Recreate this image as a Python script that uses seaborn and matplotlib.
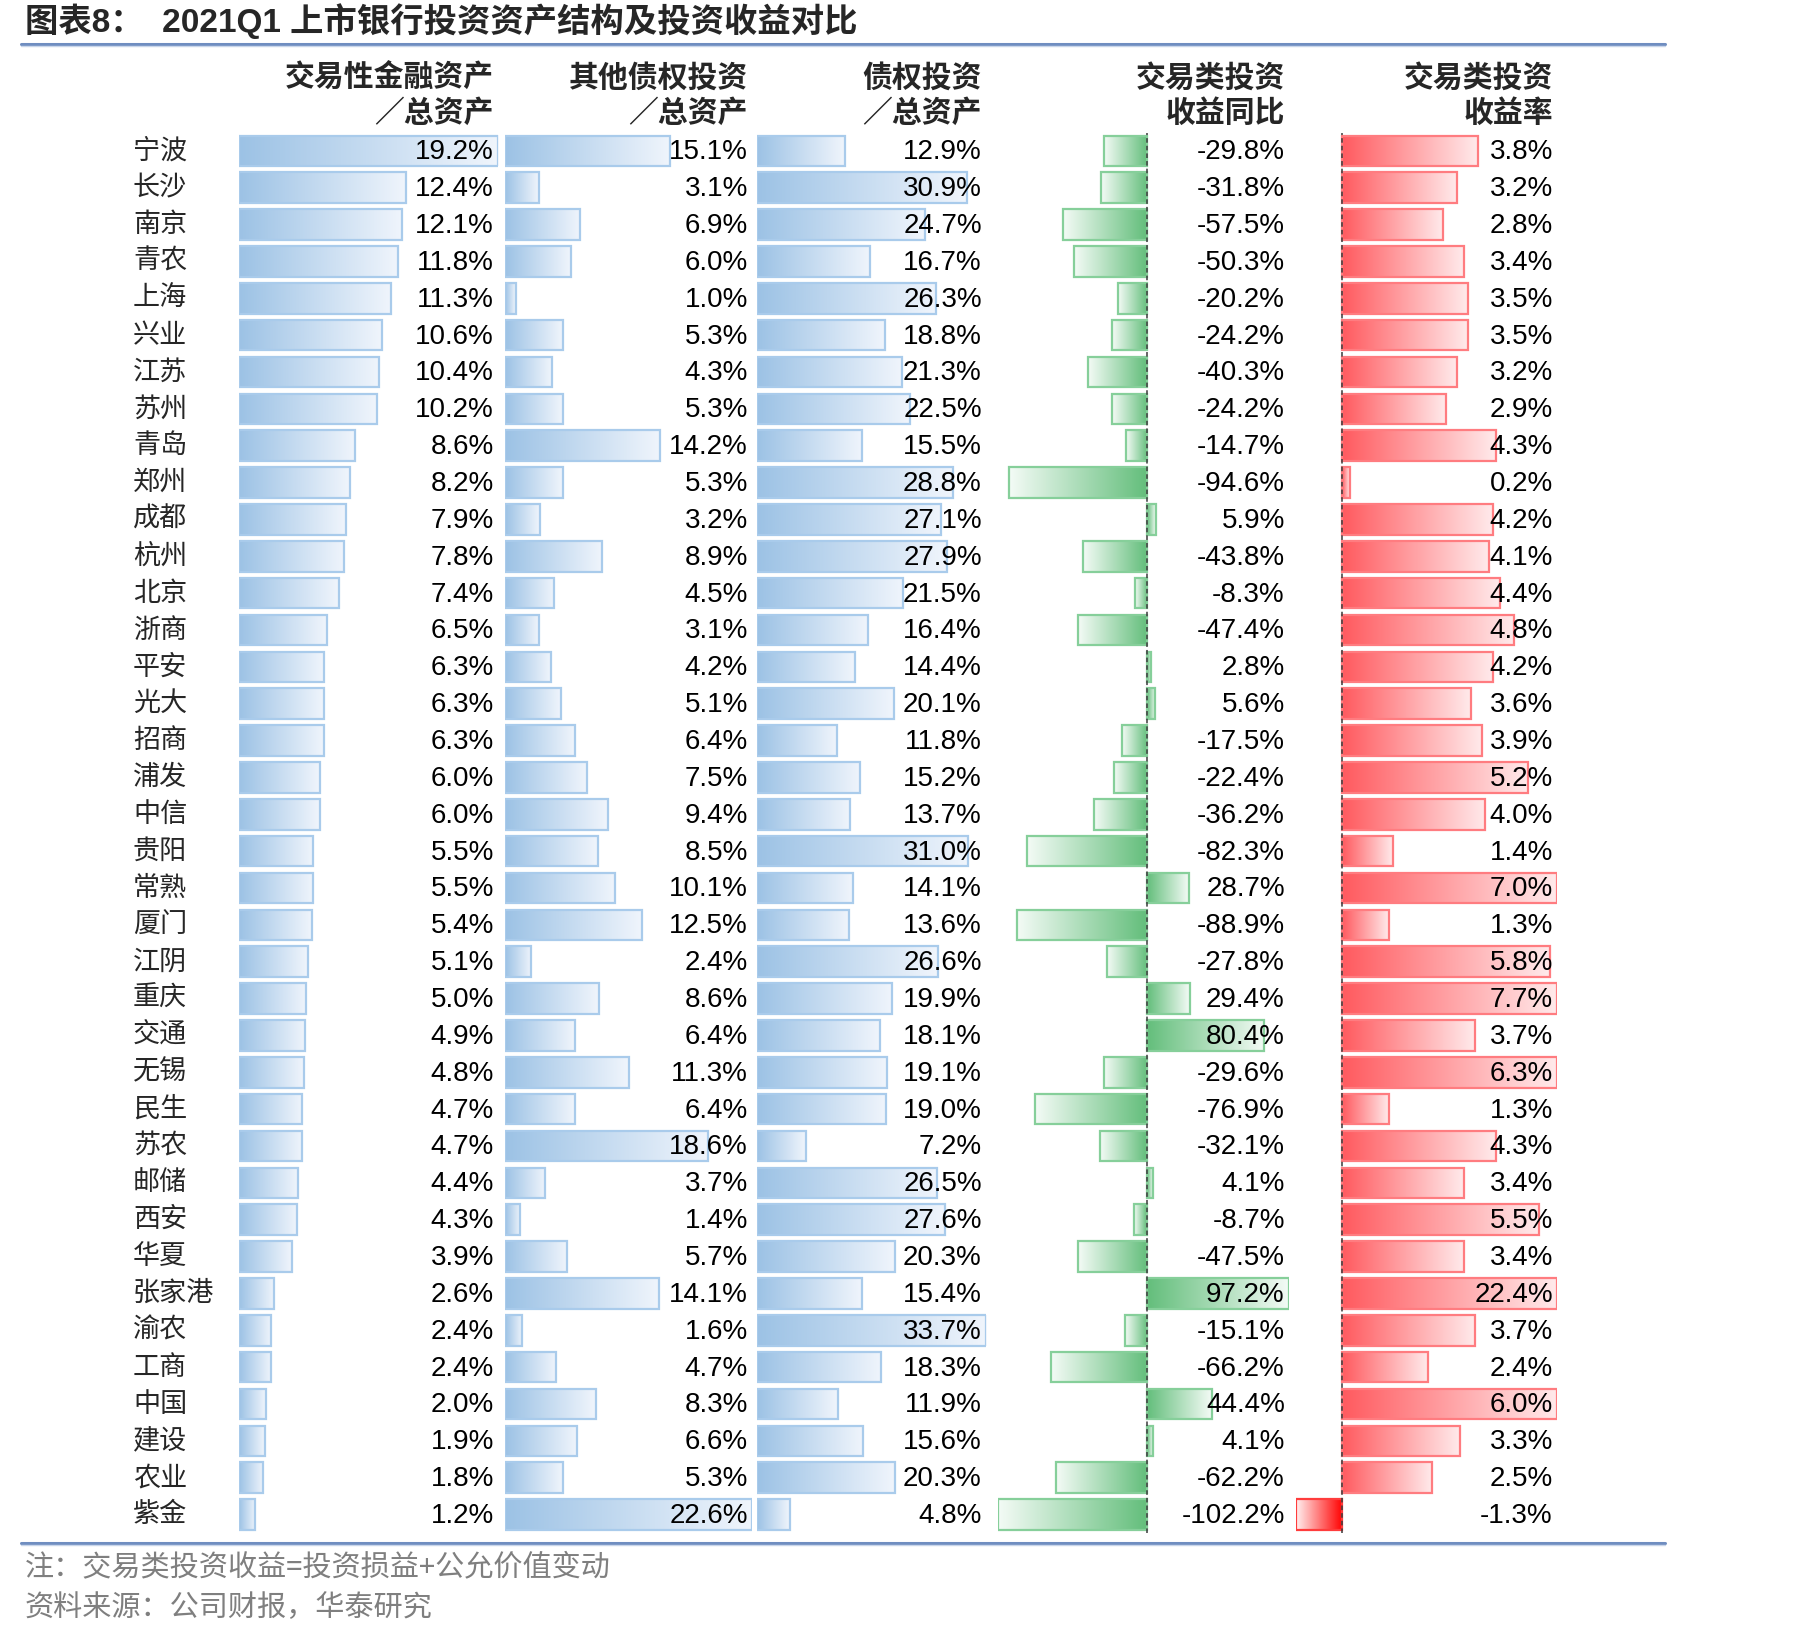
import numpy as np
import pandas as pd
import matplotlib
matplotlib.use('Agg')
import matplotlib.pyplot as plt
import matplotlib.transforms as mtransforms
from matplotlib.colors import to_rgb
from matplotlib.lines import Line2D
import seaborn as sns

sns.set_theme(style='white')
plt.rcParams['font.family'] = ['Liberation Sans', 'Noto Sans CJK SC', 'DejaVu Sans']

banks = ['宁波', '长沙', '南京', '青农', '上海', '兴业', '江苏', '苏州', '青岛', '郑州',
         '成都', '杭州', '北京', '浙商', '平安', '光大', '招商', '浦发', '中信', '贵阳',
         '常熟', '厦门', '江阴', '重庆', '交通', '无锡', '民生', '苏农', '邮储', '西安',
         '华夏', '张家港', '渝农', '工商', '中国', '建设', '农业', '紫金']
trading_ratio = [19.2, 12.4, 12.1, 11.8, 11.3, 10.6, 10.4, 10.2, 8.6, 8.2,
                 7.9, 7.8, 7.4, 6.5, 6.3, 6.3, 6.3, 6.0, 6.0, 5.5,
                 5.5, 5.4, 5.1, 5.0, 4.9, 4.8, 4.7, 4.7, 4.4, 4.3,
                 3.9, 2.6, 2.4, 2.4, 2.0, 1.9, 1.8, 1.2]
other_debt_ratio = [15.1, 3.1, 6.9, 6.0, 1.0, 5.3, 4.3, 5.3, 14.2, 5.3,
                    3.2, 8.9, 4.5, 3.1, 4.2, 5.1, 6.4, 7.5, 9.4, 8.5,
                    10.1, 12.5, 2.4, 8.6, 6.4, 11.3, 6.4, 18.6, 3.7, 1.4,
                    5.7, 14.1, 1.6, 4.7, 8.3, 6.6, 5.3, 22.6]
debt_ratio = [12.9, 30.9, 24.7, 16.7, 26.3, 18.8, 21.3, 22.5, 15.5, 28.8,
              27.1, 27.9, 21.5, 16.4, 14.4, 20.1, 11.8, 15.2, 13.7, 31.0,
              14.1, 13.6, 26.6, 19.9, 18.1, 19.1, 19.0, 7.2, 26.5, 27.6,
              20.3, 15.4, 33.7, 18.3, 11.9, 15.6, 20.3, 4.8]
income_yoy = [-29.8, -31.8, -57.5, -50.3, -20.2, -24.2, -40.3, -24.2, -14.7, -94.6,
              5.9, -43.8, -8.3, -47.4, 2.8, 5.6, -17.5, -22.4, -36.2, -82.3,
              28.7, -88.9, -27.8, 29.4, 80.4, -29.6, -76.9, -32.1, 4.1, -8.7,
              -47.5, 97.2, -15.1, -66.2, 44.4, 4.1, -62.2, -102.2]
income_rate = [3.8, 3.2, 2.8, 3.4, 3.5, 3.5, 3.2, 2.9, 4.3, 0.2,
               4.2, 4.1, 4.4, 4.8, 4.2, 3.6, 3.9, 5.2, 4.0, 1.4,
               7.0, 1.3, 5.8, 7.7, 3.7, 6.3, 1.3, 4.3, 3.4, 5.5,
               3.4, 22.4, 3.7, 2.4, 6.0, 3.3, 2.5, -1.3]

headers = [('交易性金融资产', '／总资产'), ('其他债权投资', '／总资产'), ('债权投资', '／总资产'),
           ('交易类投资', '收益同比'), ('交易类投资', '收益率')]

W, H = 1819, 1638
fig = plt.figure(figsize=(W / 100, H / 100), dpi=100)

top_px, bot_px = 132.5, 1533.0
ax_b = 1 - bot_px / H
ax_h = (bot_px - top_px) / H

blue = ('#9CC2E5', '#F0F5FC', '#A9CBEB')
green = ('#63BE7B', '#F4FBF6', '#86CF9A')
red = ('#FF5A5F', '#FFEAEB', '#FF7C80')
red_neg = ('#FF0000', '#FFF0F0', '#FF3C3C')

# the rate column in the source uses a data-bar maximum of 6%
rate_cap = 6.0

columns = [
    (239, 498, trading_ratio, trading_ratio, (0, max(trading_ratio)), blue, None, False),
    (505, 752, other_debt_ratio, other_debt_ratio, (0, max(other_debt_ratio)), blue, None, False),
    (757, 986, debt_ratio, debt_ratio, (0, max(debt_ratio)), blue, None, False),
    (998, 1289, income_yoy, income_yoy, (min(income_yoy), max(income_yoy)), green, green, True),
    (1296, 1557, list(np.minimum(income_rate, rate_cap)), income_rate,
     (min(income_rate), rate_cap), red, red_neg, True),
]


def ramp(c1, c2, n=256):
    a, b = np.array(to_rgb(c1)), np.array(to_rgb(c2))
    t = np.linspace(0, 1, n)[:, None]
    return (a * (1 - t) + b * t)[None, :, :]


axes = []
for left, right, plot_vals, label_vals, xlim, pos_c, neg_c, zero_line in columns:
    ax = fig.add_axes([left / W, ax_b, (right - left) / W, ax_h])
    ax.patch.set_alpha(0)
    df = pd.DataFrame({'bank': banks, 'v': plot_vals})
    sns.barplot(data=df, x='v', y='bank', orient='h', ax=ax, width=0.83,
                color='white', errorbar=None, linewidth=0)
    for p, v in zip(ax.patches, plot_vals):
        x0, w = p.get_x(), p.get_width()
        y0, h = p.get_y(), p.get_height()
        if w == 0:
            continue
        cols = pos_c if v >= 0 else neg_c
        img = ramp(cols[0], cols[1])
        if v < 0:
            img = img[:, ::-1, :]
        xa, xb = min(x0, x0 + w), max(x0, x0 + w)
        ax.imshow(img, extent=(xa, xb, y0 + h, y0), aspect='auto', zorder=2,
                  interpolation='bilinear')
        p.set_facecolor('none')
        p.set_edgecolor(cols[2])
        p.set_linewidth(1.6)
        p.set_zorder(3)
    if zero_line:
        ax.axvline(0, color='#3a3a3a', lw=1.1, ls=(0, (3, 2)), zorder=4)
    trans = mtransforms.blended_transform_factory(ax.transAxes, ax.transData)
    for i, v in enumerate(label_vals):
        ax.annotate(f'{v:.1f}%', xy=(1, i), xycoords=trans, xytext=(-3, -1),
                    textcoords='offset points', ha='right', va='center',
                    fontsize=20, color='black', zorder=5, annotation_clip=False)
    ax.set_xlim(*xlim)
    ax.set_ylim(len(banks) - 0.5, -0.5)
    ax.axis('off')
    axes.append(ax)

# bank names
name_tr = mtransforms.blended_transform_factory(fig.transFigure, axes[0].transData)
for i, b in enumerate(banks):
    fig.text(133 / W, i, b, transform=name_tr, ha='left', va='center',
             fontsize=19.5, family=['Noto Sans CJK SC'])

# column headers
for (left, right, *_), (h1, h2) in zip(columns, headers):
    rx = (right - 4) / W
    fig.text(rx, 1 - 78 / H, h1, ha='right', va='center', fontsize=21.5,
             fontweight='bold', family=['Noto Sans CJK SC'])
    fig.text(rx, 1 - 113 / H, h2, ha='right', va='center', fontsize=21.5,
             fontweight='bold', family=['Noto Sans CJK SC'])

# title and rules
fig.text(25 / W, 1 - 21 / H, '图表8：  2021Q1 上市银行投资资产结构及投资收益对比',
         ha='left', va='center', fontsize=24, fontweight='bold')
for py in (44, 1543):
    fig.add_artist(Line2D([21 / W, 1665 / W], [1 - py / H, 1 - py / H],
                          color='#6F8DC0', lw=2.2))
    fig.add_artist(Line2D([21 / W, 1665 / W], [1 - (py + 2) / H, 1 - (py + 2) / H],
                          color='#C9D6EA', lw=1.0))

# notes
fig.text(25 / W, 1 - 1567 / H, '注：交易类投资收益=投资损益+公允价值变动',
         ha='left', va='center', fontsize=21, color='#7F7F7F',
         family=['Noto Sans CJK SC'])
fig.text(25 / W, 1 - 1608 / H, '资料来源：公司财报，华泰研究',
         ha='left', va='center', fontsize=21, color='#7F7F7F',
         family=['Noto Sans CJK SC'])

fig.savefig('out.png', dpi=100, facecolor='white')
